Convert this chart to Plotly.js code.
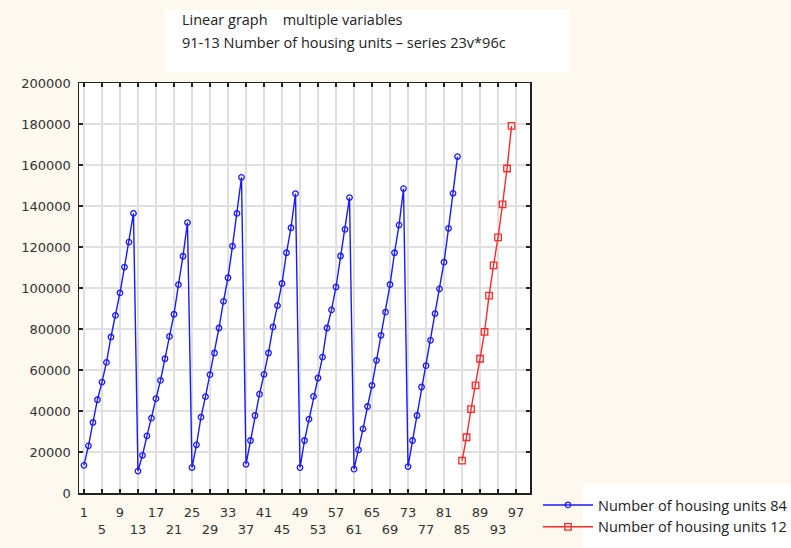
<!DOCTYPE html>
<html>
<head>
<meta charset="utf-8">
<script src="https://cdn.plot.ly/plotly-3.0.1.min.js"></script>
<style>html,body{margin:0;padding:0;background:#FEF9EE;}</style>
</head>
<body>
<div id="chart" style="width:791px;height:548px;"></div>
<script>
var blueX = [];
for (var i = 1; i <= 84; i++) blueX.push(i);
var blueY = [
  13500, 23000, 34400, 45500, 54100, 63700, 76100, 86600, 97600, 110200, 122400, 136400,
  10700, 18400, 27900, 36500, 46000, 54900, 65500, 76400, 87200, 101600, 115500, 131900,
  12400, 23500, 37000, 47000, 57700, 68300, 80500, 93500, 105000, 120400, 136400, 154000,
  14000, 25600, 37800, 48200, 57900, 68300, 81000, 91400, 102200, 117200, 129400, 146000,
  12400, 25600, 36000, 47100, 56100, 66300, 80500, 89300, 100500, 115600, 128600, 144100,
  11600, 21000, 31300, 42200, 52500, 64700, 76900, 88200, 101700, 117200, 130700, 148500,
  12900, 25600, 37800, 51700, 62100, 74500, 87500, 99600, 112600, 129100, 146200, 164100
];
var redX = [85, 86, 87, 88, 89, 90, 91, 92, 93, 94, 95, 96];
var redY = [15800, 27200, 40900, 52500, 65500, 78600, 96300, 111000, 124700, 140800, 158300, 179100];
var xTickVals = [1, 5, 9, 13, 17, 21, 25, 29, 33, 37, 41, 45, 49, 53, 57, 61, 65, 69, 73, 77, 81, 85, 89, 93, 97];
var xTickText = ['1', '<br>5', '9', '<br>13', '17', '<br>21', '25', '<br>29', '33', '<br>37', '41', '<br>45', '49',
                 '<br>53', '57', '<br>61', '65', '<br>69', '73', '<br>77', '81', '<br>85', '89', '<br>93', '97'];
var seriesNames = ['Number of housing units 84', 'Number of housing units 12'];

var traces = [
  {x: blueX, y: blueY, type: 'scatter', mode: 'lines+markers', name: seriesNames[0],
   line: {color: '#1a1aff', width: 1.4},
   marker: {symbol: 'circle-open', size: 5.5, color: '#1a1aff', line: {width: 1.3}}},
  {x: redX, y: redY, type: 'scatter', mode: 'lines+markers', name: seriesNames[1],
   line: {color: '#ff2a2a', width: 1.4},
   marker: {symbol: 'square-open', size: 6.5, color: '#ff2a2a', line: {width: 1.3}}}
];

var axisFont = {family: 'DejaVu Sans', size: 13, color: '#333333'};
var layout = {
  width: 791, height: 548,
  margin: {l: 79, r: 261, t: 83, b: 55, pad: 0, autoexpand: false},
  paper_bgcolor: '#FEF9EE',
  plot_bgcolor: '#ffffff',
  showlegend: true,
  title: {
    text: 'Linear graph\u00a0\u00a0\u00a0\u00a0multiple variables',
    x: 182 / 791, xanchor: 'left', xref: 'container',
    y: 1 - 20 / 548, yanchor: 'middle', yref: 'container',
    font: {family: 'Open Sans', size: 14.5, color: '#222222'}
  },
  annotations: [{
    text: '91-13 Number of housing units \u2013 series 23v*96c',
    xref: 'paper', yref: 'paper', x: (180 - 79) / 451, y: (493 - 43) / 410,
    xanchor: 'left', yanchor: 'middle', showarrow: false,
    font: {family: 'Open Sans', size: 14.5, color: '#222222'}
  }],
  xaxis: {
    range: [-0.1, 100.1], tickmode: 'array', tickvals: xTickVals, ticktext: xTickText,
    automargin: false,
    showgrid: true, gridcolor: '#e0e0e0', gridwidth: 1.5, zeroline: false,
    showline: true, linecolor: '#222222', linewidth: 1.5, mirror: 'ticks',
    ticks: 'inside', ticklen: 4, tickcolor: '#222222', tickwidth: 1.5,
    tickfont: axisFont, ticklabelstandoff: 7, tickangle: 0
  },
  yaxis: {
    range: [0, 200000], dtick: 20000, tick0: 0, tickformat: 'd',
    automargin: false,
    showgrid: true, gridcolor: '#e0e0e0', gridwidth: 1.5, zeroline: false,
    showline: true, linecolor: '#222222', linewidth: 1.5, mirror: 'ticks',
    ticks: 'inside', ticklen: 4, tickcolor: '#222222', tickwidth: 1.5,
    tickfont: axisFont, ticklabelstandoff: 4
  },
  legend: {
    x: (538 - 79) / 451, xanchor: 'left', xref: 'paper',
    y: (493 - 489) / 410, yanchor: 'top', yref: 'paper',
    bgcolor: 'rgba(0,0,0,0)', borderwidth: 0,
    font: {family: 'Open Sans', size: 14.5, color: '#222222'},
    itemwidth: 50, tracegroupgap: 2
  },
  shapes: [
    {type: 'rect', xref: 'paper', yref: 'paper', layer: 'below',
     x0: (165 - 79) / 451, x1: (570 - 79) / 451, y0: (493 - 72) / 410, y1: (493 - 10) / 410,
     fillcolor: '#ffffff', line: {width: 0}},
    {type: 'rect', xref: 'paper', yref: 'paper', layer: 'below',
     x0: (583 - 79) / 451, x1: (795 - 79) / 451, y0: (493 - 485) / 410, y1: (493 - 552) / 410,
     fillcolor: '#ffffff', line: {width: 0}}
  ]
};

Plotly.newPlot('chart', traces, layout, {displayModeBar: false, staticPlot: true});
</script>
</body>
</html>
